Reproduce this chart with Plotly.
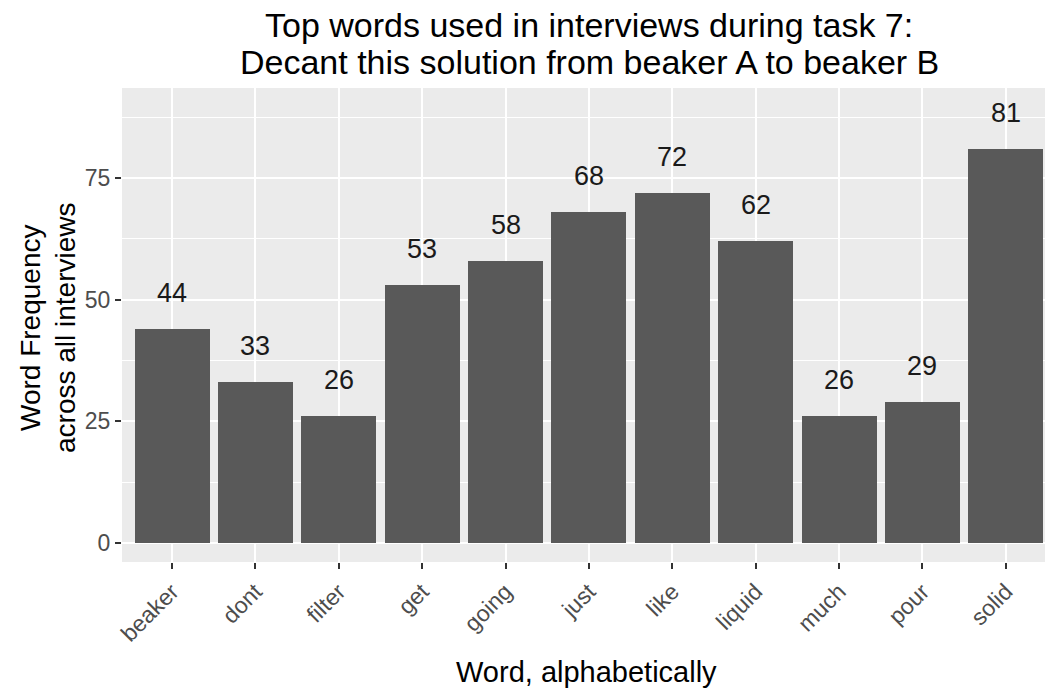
import plotly.graph_objects as go

# Word counts across all interviews for task 7
words = ["beaker", "dont", "filter", "get", "going", "just", "like",
         "liquid", "much", "pour", "solid"]
counts = [44, 33, 26, 53, 58, 68, 72, 62, 26, 29, 81]

title_lines = ["Top words used in interviews during task 7:",
               "Decant this solution from beaker A to beaker B"]
x_title = "Word, alphabetically"
y_title_lines = ["Word Frequency", "across all interviews"]
y_ticks = [0, 25, 50, 75]

FONT = "Liberation Sans, Arial, sans-serif"
W, H = 1045, 692
ML, MR, MT, MB = 122, 0, 88, 130
pw = W - ML - MR
ph = H - MT - MB


def px_x(p):
    return (p - ML) / pw


def px_y(p):
    return (H - MB - p) / ph


fig = go.Figure()
fig.add_trace(go.Bar(
    x=words, y=counts, width=0.9,
    marker=dict(color="#595959", line=dict(width=0)),
    hoverinfo="x+y",
))

# value labels above each bar
for w, c in zip(words, counts):
    fig.add_annotation(x=w, y=c, text=str(c), showarrow=False,
                       xref="x", yref="y", yanchor="middle", yshift=36,
                       font=dict(family=FONT, size=27, color="#1a1a1a"))

# chart title, one annotation per line
for line, yc in zip(title_lines, [25, 62]):
    fig.add_annotation(text=line, xref="paper", yref="paper",
                       x=px_x(589), y=px_y(yc), xanchor="center",
                       yanchor="middle", showarrow=False,
                       font=dict(family=FONT, size=34, color="black"))

# axis titles
fig.add_annotation(text=x_title, xref="paper", yref="paper",
                   x=px_x(586), y=px_y(672),
                   xanchor="center", yanchor="middle", showarrow=False,
                   font=dict(family=FONT, size=29, color="black"))
for line, xc in zip(y_title_lines, [30, 65]):
    fig.add_annotation(text=line, xref="paper", yref="paper",
                       x=px_x(xc), y=px_y(328), textangle=-90,
                       xanchor="center", yanchor="middle", showarrow=False,
                       font=dict(family=FONT, size=28, color="black"))

fig.update_layout(
    width=W, height=H,
    margin=dict(l=ML, r=MR, t=MT, b=MB, pad=0),
    paper_bgcolor="white", plot_bgcolor="#EBEBEB",
    showlegend=False, bargap=0,
    font=dict(family=FONT),
)

fig.update_xaxes(
    type="category", categoryorder="array", categoryarray=words,
    range=[-0.6, 10.47], showgrid=True, gridcolor="white", gridwidth=1.8,
    ticks="outside", ticklen=6, tickwidth=1.5, tickcolor="#333333",
    tickangle=-45, tickfont=dict(family=FONT, size=23, color="#4D4D4D"),
    showline=False, zeroline=False, fixedrange=True,
)
fig.update_yaxes(
    range=[-3.92, 93.5], tickvals=y_ticks, showgrid=True,
    gridcolor="white", gridwidth=1.8,
    minor=dict(dtick=12.5, tick0=12.5, showgrid=True, gridcolor="white",
               gridwidth=0.8),
    ticks="outside", ticklen=6, tickwidth=1.5, tickcolor="#333333",
    tickfont=dict(family=FONT, size=23, color="#4D4D4D"),
    showline=False, zeroline=False, fixedrange=True,
)

fig.write_html("out.html")
